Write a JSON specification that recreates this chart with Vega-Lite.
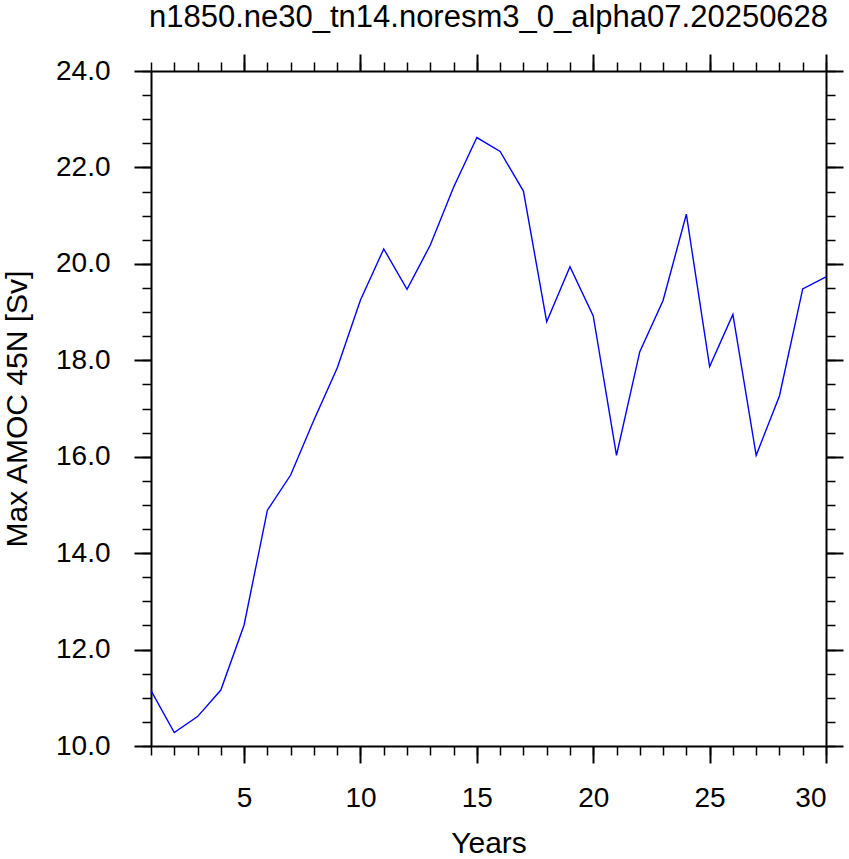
{
  "$schema": "https://vega.github.io/schema/vega-lite/v6.json",
  "width": 675,
  "height": 675,
  "autosize": {"type": "none"},
  "padding": {"left": 151, "top": 71, "right": 23, "bottom": 113},
  "background": "white",
  "config": {
    "view": {"stroke": null},
    "font": "Liberation Sans",
    "axis": {"grid": false, "domainColor": "black", "tickColor": "black", "labelColor": "black", "titleColor": "black", "domainWidth": 2, "labelFont": "Liberation Sans", "titleFont": "Liberation Sans", "titleFontWeight": "normal"}
  },
  "title": {"text": "n1850.ne30_tn14.noresm3_0_alpha07.20250628", "fontSize": 31, "font": "Liberation Sans", "fontWeight": "normal", "color": "black", "anchor": "middle", "frame": "group", "baseline": "alphabetic", "offset": -5},
  "data": {"values": [
    {"year": 1, "amoc": 11.15},
    {"year": 2, "amoc": 10.28},
    {"year": 3, "amoc": 10.61},
    {"year": 4, "amoc": 11.16},
    {"year": 5, "amoc": 12.51},
    {"year": 6, "amoc": 14.89},
    {"year": 7, "amoc": 15.62},
    {"year": 8, "amoc": 16.76},
    {"year": 9, "amoc": 17.84},
    {"year": 10, "amoc": 19.25},
    {"year": 11, "amoc": 20.31},
    {"year": 12, "amoc": 19.47},
    {"year": 13, "amoc": 20.39},
    {"year": 14, "amoc": 21.59},
    {"year": 15, "amoc": 22.62},
    {"year": 16, "amoc": 22.33},
    {"year": 17, "amoc": 21.51},
    {"year": 18, "amoc": 18.8},
    {"year": 19, "amoc": 19.94},
    {"year": 20, "amoc": 18.92},
    {"year": 21, "amoc": 16.03},
    {"year": 22, "amoc": 18.18},
    {"year": 23, "amoc": 19.24},
    {"year": 24, "amoc": 21.03},
    {"year": 25, "amoc": 17.87},
    {"year": 26, "amoc": 18.95},
    {"year": 27, "amoc": 16.03},
    {"year": 28, "amoc": 17.26},
    {"year": 29, "amoc": 19.48},
    {"year": 30, "amoc": 19.73}
  ]},
  "layer": [
    {
      "mark": {"type": "line", "opacity": 0},
      "encoding": {
        "x": {"field": "year", "type": "quantitative", "scale": {"domain": [1, 30], "nice": false, "zero": false},
              "axis": {"orient": "bottom", "values": [1,2,3,4,5,6,7,8,9,10,11,12,13,14,15,16,17,18,19,20,21,22,23,24,25,26,27,28,29,30], "labels": false, "domain": false, "tickSize": 9, "tickWidth": 1.5, "title": null}},
        "y": {"field": "amoc", "type": "quantitative", "scale": {"domain": [10, 24], "nice": false, "zero": false},
              "axis": {"orient": "left", "values": [10,10.5,11,11.5,12,12.5,13,13.5,14,14.5,15,15.5,16,16.5,17,17.5,18,18.5,19,19.5,20,20.5,21,21.5,22,22.5,23,23.5,24], "labels": false, "domain": false, "tickSize": 9, "tickWidth": 1.5, "title": null}}
      }
    },
    {
      "mark": {"type": "line", "opacity": 0},
      "encoding": {
        "x": {"field": "year", "type": "quantitative",
              "axis": {"orient": "top", "values": [1,2,3,4,5,6,7,8,9,10,11,12,13,14,15,16,17,18,19,20,21,22,23,24,25,26,27,28,29,30], "labels": false, "domain": false, "tickSize": 9, "tickWidth": 1.5, "title": null}},
        "y": {"field": "amoc", "type": "quantitative",
              "axis": {"orient": "right", "values": [10,10.5,11,11.5,12,12.5,13,13.5,14,14.5,15,15.5,16,16.5,17,17.5,18,18.5,19,19.5,20,20.5,21,21.5,22,22.5,23,23.5,24], "labels": false, "domain": false, "tickSize": 9, "tickWidth": 1.5, "title": null}}
      }
    },
    {
      "mark": {"type": "line", "opacity": 0},
      "encoding": {
        "x": {"field": "year", "type": "quantitative",
              "axis": {"orient": "top", "values": [5,10,15,20,25,30], "labels": false, "tickSize": 17, "tickWidth": 2, "title": null}},
        "y": {"field": "amoc", "type": "quantitative",
              "axis": {"orient": "right", "values": [10,12,14,16,18,20,22,24], "labels": false, "tickSize": 17, "tickWidth": 2, "title": null}}
      }
    },
    {
      "mark": {"type": "line", "color": "#0000ff", "strokeWidth": 1.4},
      "encoding": {
        "x": {"field": "year", "type": "quantitative",
              "axis": {"orient": "bottom", "values": [5,10,15,20,25,30], "format": "d", "labelFontSize": 28, "labelPadding": 21, "tickSize": 17, "tickWidth": 2, "title": "Years", "titleFontSize": 30, "titlePadding": 16}},
        "y": {"field": "amoc", "type": "quantitative",
              "axis": {"orient": "left", "values": [10,12,14,16,18,20,22,24], "format": ".1f", "labelFontSize": 28, "labelPadding": 24, "tickSize": 17, "tickWidth": 2, "title": "Max AMOC 45N [Sv]", "titleFontSize": 30, "titlePadding": 23}}
      }
    }
  ],
  "resolve": {"scale": {"x": "shared", "y": "shared"}, "axis": {"x": "independent", "y": "independent"}}
}
